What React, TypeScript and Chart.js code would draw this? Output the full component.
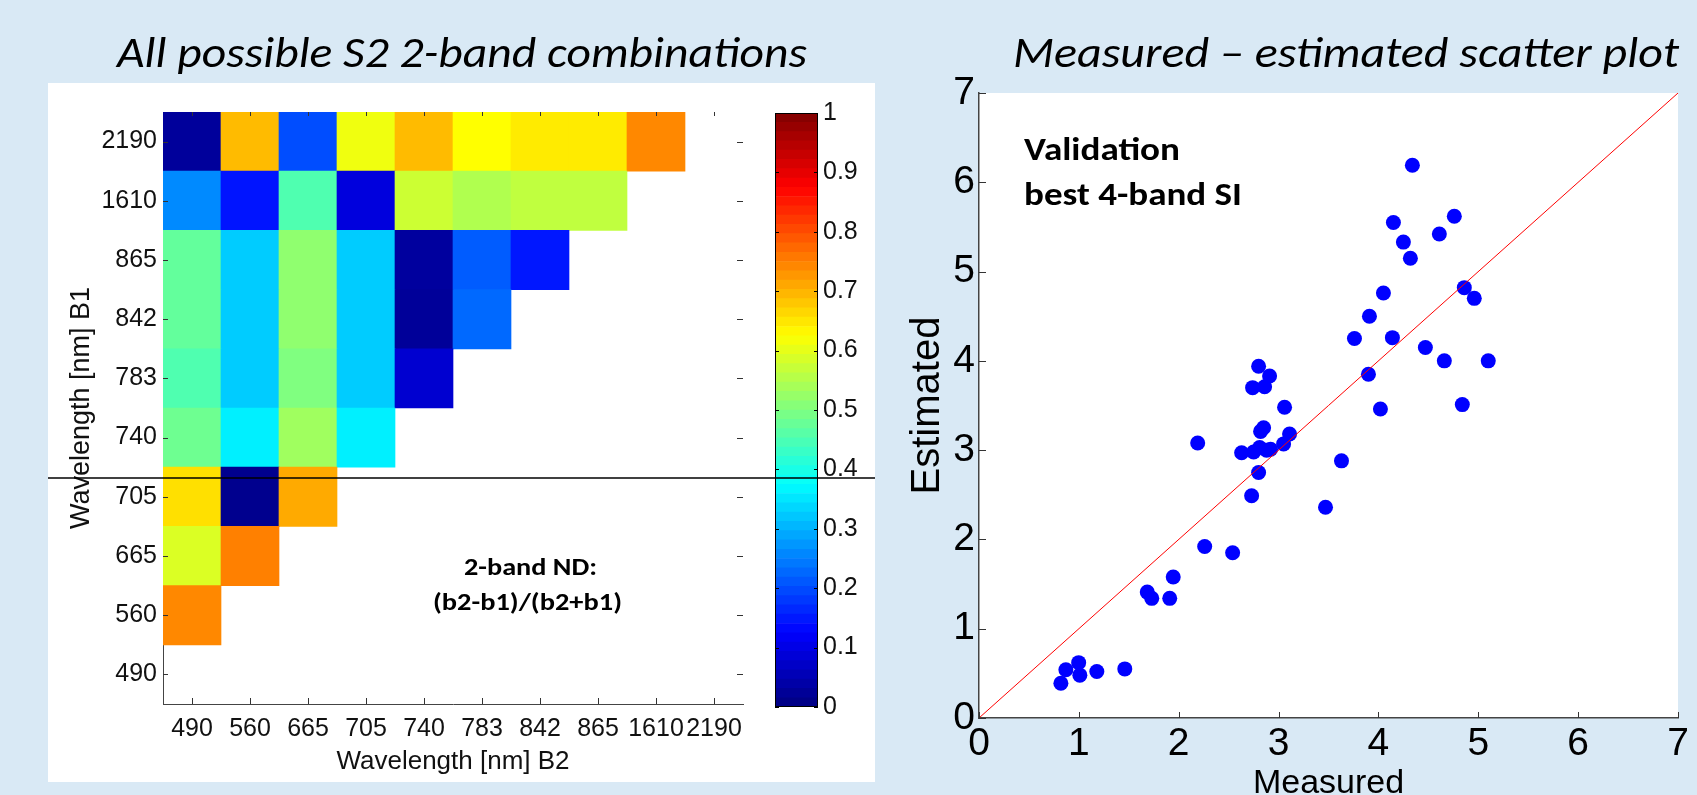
import React, { useEffect, useRef } from 'react';
import { Chart, registerables } from 'chart.js';

Chart.register(...registerables);

// ---------- data ----------
const bandLabels = ['490', '560', '665', '705', '740', '783', '842', '865', '1610', '2190'];

// normalized-difference value per B1 row (index = B1 band), one value per B2 column (col < row)
const row490: number[] = [];
const row560 = [0.742];
const row665 = [0.59, 0.75];
const row705 = [0.655, 0.014, 0.708];
const row740 = [0.483, 0.36, 0.532, 0.36];
const row783 = [0.452, 0.325, 0.5, 0.325, 0.079];
const row842 = [0.472, 0.325, 0.516, 0.325, 0.025, 0.228];
const row865 = [0.472, 0.325, 0.516, 0.325, 0.03, 0.215, 0.148];
const row1610 = [0.26, 0.145, 0.452, 0.092, 0.575, 0.548, 0.563, 0.563];
const row2190 = [0.027, 0.692, 0.2, 0.61, 0.692, 0.625, 0.645, 0.645, 0.742];
const ndRows = [row490, row560, row665, row705, row740, row783, row842, row865, row1610, row2190];

const colorbarLevels = 64;
const colorbarMin = 0;
const colorbarMax = 1;
const colorbarStep = 0.1;

const measured = [
  0.82, 0.87, 0.998, 1.01, 1.18, 1.46, 1.685, 1.73, 1.91, 1.945,
  2.19, 2.26, 2.54, 2.63, 2.73, 2.74, 2.75, 2.8, 2.8, 2.81,
  2.82, 2.85, 2.86, 2.88, 2.92, 2.91, 3.05, 3.06, 3.11, 3.47,
  3.63, 3.76, 3.9, 3.91, 4.02, 4.05, 4.14, 4.15, 4.25, 4.32,
  4.34, 4.47, 4.61, 4.66, 4.76, 4.84, 4.86, 4.96, 5.1,
];
const estimated = [
  0.39, 0.54, 0.62, 0.48, 0.52, 0.55, 1.41, 1.34, 1.34, 1.58,
  3.08, 1.92, 1.85, 2.97, 2.49, 3.7, 2.98, 2.75, 3.94, 3.03,
  3.21, 3.25, 3.71, 3.0, 3.01, 3.83, 3.07, 3.48, 3.18, 2.36,
  2.88, 4.25, 3.85, 4.5, 3.46, 4.76, 4.26, 5.55, 5.33, 5.15,
  6.19, 4.15, 5.42, 4.0, 5.62, 3.51, 4.82, 4.7, 4.0,
];
const oneToOne = [0, 7];
const scatterMin = 0;
const scatterMax = 7;

// ---------- helpers ----------
function jet(v: number): string {
  const c = (x: number) => Math.round(255 * Math.min(1, Math.max(0, x)));
  return `rgb(${c(1.5 - Math.abs(4 * v - 3))},${c(1.5 - Math.abs(4 * v - 2))},${c(1.5 - Math.abs(4 * v - 1))})`;
}

const FONT = "'Liberation Sans', Arial, Helvetica, sans-serif";
const TXT = '#111';
const AXIS = '#444';

function zeroPad(scale: any) {
  scale.paddingLeft = 0;
  scale.paddingRight = 0;
  scale.paddingTop = 0;
  scale.paddingBottom = 0;
}

const heatTicksPlugin = {
  id: 'heatTicks',
  afterDraw(chart: any) {
    const { ctx, chartArea: a, scales } = chart;
    const x = scales.x;
    const y = scales.y;
    ctx.save();
    ctx.strokeStyle = '#333';
    ctx.lineWidth = 1;
    ctx.beginPath();
    x.ticks.forEach((_t: any, i: number) => {
      const px = Math.round(x.getPixelForTick(i)) + 0.5;
      ctx.moveTo(px, a.bottom);
      ctx.lineTo(px, a.bottom - 6);
      ctx.moveTo(px, a.top);
      ctx.lineTo(px, a.top + 4);
    });
    y.ticks.forEach((_t: any, i: number) => {
      const py = Math.round(y.getPixelForTick(i)) + 0.5;
      ctx.moveTo(a.left, py);
      ctx.lineTo(a.left + 5, py);
      ctx.moveTo(a.right, py);
      ctx.lineTo(a.right - 6, py);
    });
    ctx.stroke();
    ctx.restore();
  },
};

const colorbarPlugin = {
  id: 'cbFrame',
  afterDraw(chart: any) {
    const { ctx, chartArea: a, scales } = chart;
    const y = scales.y;
    ctx.save();
    ctx.strokeStyle = '#000';
    ctx.lineWidth = 1;
    ctx.strokeRect(a.left + 0.5, a.top + 0.5, a.right - a.left - 1, a.bottom - a.top - 1);
    ctx.beginPath();
    y.ticks.forEach((_t: any, i: number) => {
      const py = Math.round(y.getPixelForTick(i)) + 0.5;
      ctx.moveTo(a.left, py);
      ctx.lineTo(a.left + 4, py);
      ctx.moveTo(a.right, py);
      ctx.lineTo(a.right - 4, py);
    });
    ctx.stroke();
    ctx.restore();
  },
};

const scatterPlugin = {
  id: 'scatterDeco',
  beforeDraw(chart: any) {
    const { ctx, chartArea: a } = chart;
    ctx.save();
    ctx.fillStyle = '#fff';
    ctx.fillRect(a.left, a.top, a.right - a.left, a.bottom - a.top);
    ctx.restore();
  },
  afterDraw(chart: any) {
    const { ctx, chartArea: a, scales } = chart;
    const x = scales.x;
    const y = scales.y;
    ctx.save();
    ctx.strokeStyle = '#333';
    ctx.lineWidth = 1;
    ctx.beginPath();
    x.ticks.forEach((_t: any, i: number) => {
      const px = Math.round(x.getPixelForTick(i)) + 0.5;
      ctx.moveTo(px, a.bottom);
      ctx.lineTo(px, a.bottom - 6);
    });
    y.ticks.forEach((_t: any, i: number) => {
      const py = Math.round(y.getPixelForTick(i)) + 0.5;
      ctx.moveTo(a.left, py);
      ctx.lineTo(a.left + 7, py);
    });
    ctx.stroke();
    ctx.restore();
  },
};

export default function App() {
  const heatRef = useRef<HTMLCanvasElement>(null);
  const cbRef = useRef<HTMLCanvasElement>(null);
  const scRef = useRef<HTMLCanvasElement>(null);

  useEffect(() => {
    const charts: Chart[] = [];

    // ---- heatmap ----
    if (heatRef.current) {
      charts.push(
        new Chart(heatRef.current, {
          type: 'bar',
          data: {
            labels: bandLabels,
            datasets: ndRows.map((vals, r) => ({
              data: bandLabels.map((_b, c) => (c < vals.length ? [r, r + 1] : null)) as any,
              backgroundColor: bandLabels.map((_b, c) => (c < vals.length ? jet(vals[c]) : 'rgba(0,0,0,0)')),
              barPercentage: 1,
              categoryPercentage: 1,
              grouped: false,
              borderWidth: 0,
            })),
          },
          options: {
            animation: false,
            responsive: false,
            events: [],
            layout: { padding: { top: 52, right: 17, left: 0, bottom: 0 } },
            plugins: { legend: { display: false }, tooltip: { enabled: false } },
            scales: {
              x: {
                type: 'category',
                offset: true,
                grid: { display: false, drawTicks: false },
                border: { display: true, color: AXIS, width: 1 },
                ticks: {
                  autoSkip: false,
                  maxRotation: 0,
                  minRotation: 0,
                  padding: 10,
                  color: TXT,
                  font: { family: FONT, size: 25 },
                },
                title: {
                  display: true,
                  text: 'Wavelength [nm] B2',
                  color: TXT,
                  font: { family: FONT, size: 26 },
                  padding: { top: 0, bottom: 5 },
                },
                afterFit(scale: any) {
                  scale.height = 78;
                  zeroPad(scale);
                },
              },
              y: {
                type: 'linear',
                min: 0,
                max: bandLabels.length,
                grid: { display: false, drawTicks: false },
                border: { display: true, color: AXIS, width: 1 },
                afterBuildTicks(scale: any) {
                  scale.ticks = bandLabels.map((_b, i) => ({ value: i + 0.5 }));
                },
                ticks: {
                  padding: 6,
                  color: TXT,
                  font: { family: FONT, size: 25 },
                  callback: (v: any) => bandLabels[Math.floor(Number(v))],
                },
                title: {
                  display: true,
                  text: 'Wavelength [nm] B1',
                  color: TXT,
                  font: { family: FONT, size: 27 },
                  padding: { top: 17, bottom: 0 },
                },
                afterFit(scale: any) {
                  scale.width = 115;
                  zeroPad(scale);
                },
              },
            },
          },
          plugins: [heatTicksPlugin],
        } as any)
      );
    }

    // ---- colorbar ----
    if (cbRef.current) {
      const levels = Array.from({ length: colorbarLevels }, (_v, i) => i);
      const span = colorbarMax - colorbarMin;
      charts.push(
        new Chart(cbRef.current, {
          type: 'bar',
          data: {
            labels: [''],
            datasets: levels.map((i) => ({
              data: [[colorbarMin + (i / colorbarLevels) * span, colorbarMin + ((i + 1) / colorbarLevels) * span]] as any,
              backgroundColor: jet((i + 0.5) / colorbarLevels),
              barPercentage: 1,
              categoryPercentage: 1,
              grouped: false,
              borderWidth: 0,
            })),
          },
          options: {
            animation: false,
            responsive: false,
            events: [],
            layout: { padding: { top: 53, right: 0, left: 15, bottom: 75 } },
            plugins: { legend: { display: false }, tooltip: { enabled: false } },
            scales: {
              x: { display: false, offset: true },
              y: {
                type: 'linear',
                position: 'right',
                min: colorbarMin,
                max: colorbarMax,
                grid: { display: false, drawTicks: false },
                border: { display: false },
                ticks: {
                  stepSize: colorbarStep,
                  padding: 5,
                  color: TXT,
                  font: { family: FONT, size: 25 },
                  callback: (v: any) => String(Math.round(Number(v) * 10) / 10),
                },
                afterFit(scale: any) {
                  scale.width = 57;
                  zeroPad(scale);
                },
              },
            },
          },
          plugins: [colorbarPlugin],
        } as any)
      );
    }

    // ---- scatter ----
    if (scRef.current) {
      charts.push(
        new Chart(scRef.current, {
          type: 'scatter',
          data: {
            datasets: [
              {
                type: 'line',
                data: oneToOne.map((v) => ({ x: v, y: v })),
                borderColor: '#ff0000',
                borderWidth: 1,
                pointRadius: 0,
                fill: false,
              },
              {
                type: 'scatter',
                data: measured.map((m, i) => ({ x: m, y: estimated[i] })),
                backgroundColor: '#0000ff',
                borderWidth: 0,
                pointRadius: 7.5,
              },
            ],
          },
          options: {
            animation: false,
            responsive: false,
            events: [],
            layout: { padding: { top: 33, right: 19, left: 0, bottom: 0 } },
            plugins: { legend: { display: false }, tooltip: { enabled: false } },
            scales: {
              x: {
                type: 'linear',
                min: scatterMin,
                max: scatterMax,
                grid: { display: false, drawTicks: false },
                border: { display: true, color: AXIS, width: 1.5 },
                ticks: {
                  stepSize: 1,
                  padding: 3,
                  color: '#000',
                  maxRotation: 0,
                  font: { family: FONT, size: 39 },
                },
                title: {
                  display: true,
                  text: 'Measured',
                  color: '#000',
                  font: { family: FONT, size: 34 },
                  padding: { top: 0, bottom: 16 },
                },
                afterFit(scale: any) {
                  scale.height = 102;
                  zeroPad(scale);
                },
              },
              y: {
                type: 'linear',
                min: scatterMin,
                max: scatterMax,
                grid: { display: false, drawTicks: false },
                border: { display: true, color: AXIS, width: 1.5 },
                ticks: {
                  stepSize: 1,
                  padding: 4,
                  color: '#000',
                  font: { family: FONT, size: 39 },
                },
                title: {
                  display: true,
                  text: 'Estimated',
                  color: '#000',
                  font: { family: FONT, size: 40 },
                  padding: { top: 24, bottom: 0 },
                },
                afterFit(scale: any) {
                  scale.width = 99;
                  zeroPad(scale);
                },
              },
            },
          },
          plugins: [scatterPlugin],
        } as any)
      );
    }

    return () => {
      charts.forEach((c) => c.destroy());
    };
  }, []);

  const calibri = "Carlito, Calibri, Lato, 'Open Sans', sans-serif";

  return (
    <div
      style={{
        position: 'absolute',
        left: 0,
        top: 0,
        width: 1697,
        height: 795,
        overflow: 'hidden',
        background: '#d9e9f5',
      }}
    >
      <div style={{ position: 'absolute', left: 48, top: 83, width: 827, height: 699, background: '#fff' }} />
      <canvas ref={heatRef} width={712} height={722} style={{ position: 'absolute', left: 48, top: 60 }} />
      <canvas ref={cbRef} width={115} height={722} style={{ position: 'absolute', left: 760, top: 60 }} />
      <canvas ref={scRef} width={817} height={760} style={{ position: 'absolute', left: 880, top: 60 }} />
      <svg
        width={1697}
        height={795}
        style={{ position: 'absolute', left: 0, top: 0, pointerEvents: 'none' }}
      >
        <line x1={48} y1={478} x2={875} y2={478} stroke="#000" strokeWidth={1.3} />
        <text
          x={117}
          y={67}
          fontFamily={calibri}
          fontStyle="italic"
          fontSize={43}
          fill="#000"
          textLength={690}
          lengthAdjust="spacingAndGlyphs"
        >
          All possible S2 2-band combinations
        </text>
        <text
          x={1013}
          y={67}
          fontFamily={calibri}
          fontStyle="italic"
          fontSize={43}
          fill="#000"
          textLength={666}
          lengthAdjust="spacingAndGlyphs"
        >
          Measured – estimated scatter plot
        </text>
        <text x={1024} y={160} fontFamily={calibri} fontWeight="bold" fontSize={32} fill="#000" textLength={156} lengthAdjust="spacingAndGlyphs">
          Validation
        </text>
        <text x={1024} y={205} fontFamily={calibri} fontWeight="bold" fontSize={32} fill="#000" textLength={218} lengthAdjust="spacingAndGlyphs">
          best 4-band SI
        </text>
        <text x={464} y={575} fontFamily={calibri} fontWeight="bold" fontSize={25} fill="#000" textLength={133} lengthAdjust="spacingAndGlyphs">
          2-band ND:
        </text>
        <text x={433} y={610} fontFamily={calibri} fontWeight="bold" fontSize={25} fill="#000" textLength={189} lengthAdjust="spacingAndGlyphs">
          (b2-b1)/(b2+b1)
        </text>
      </svg>
    </div>
  );
}
